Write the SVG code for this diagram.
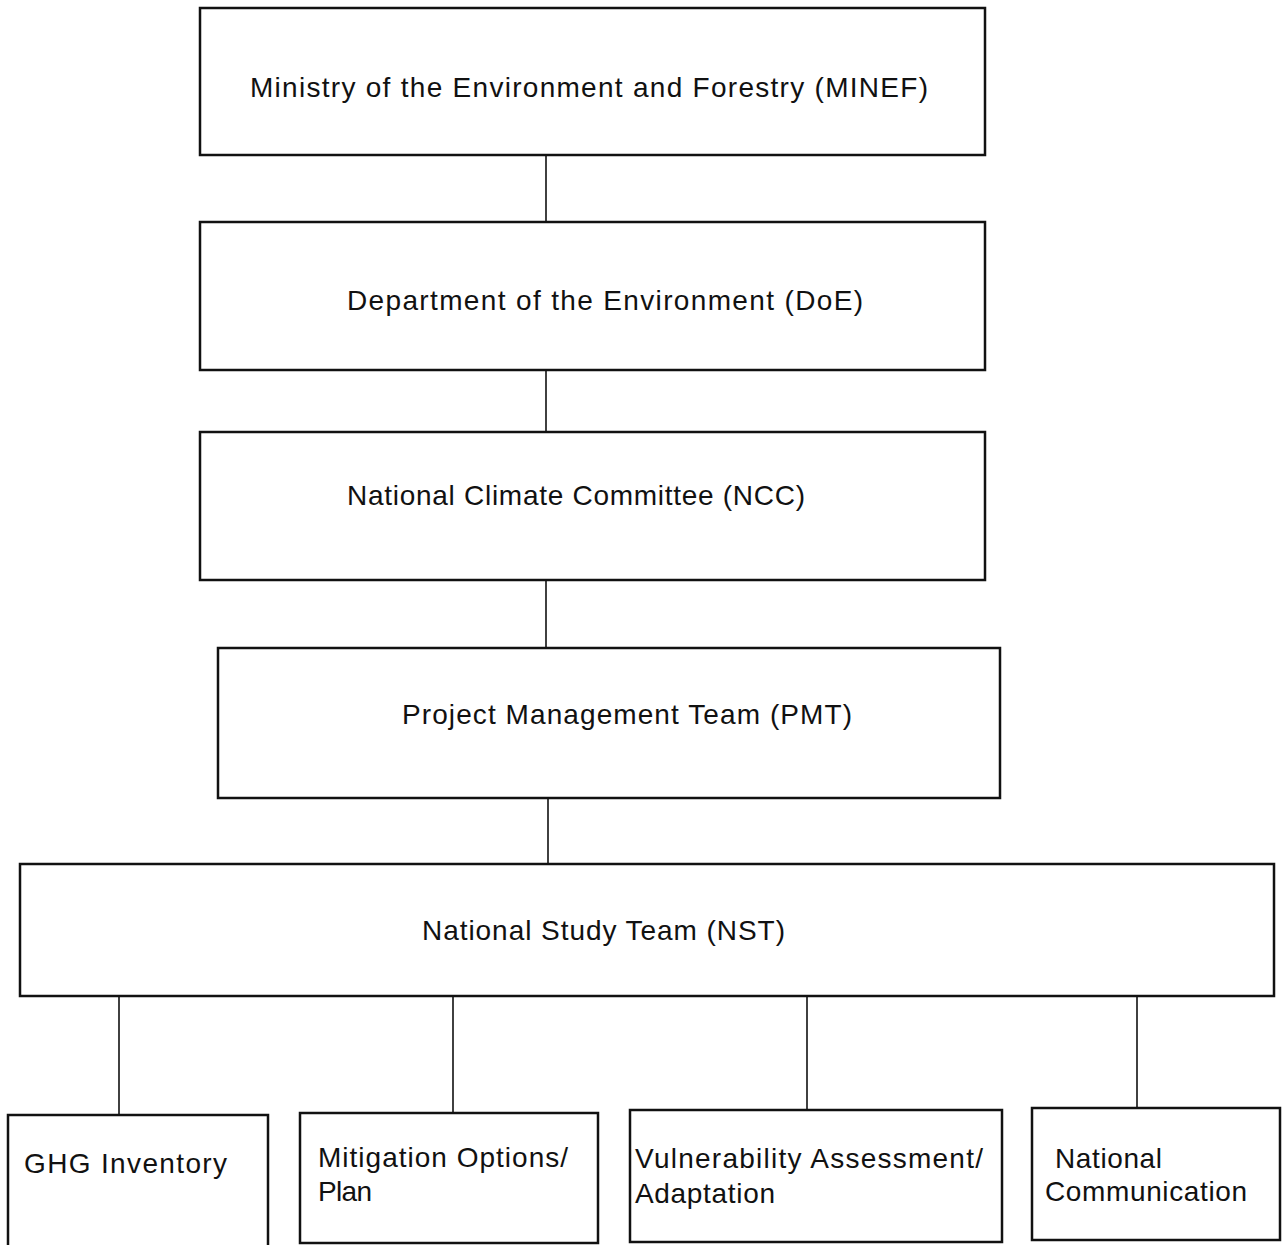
<svg xmlns="http://www.w3.org/2000/svg" width="1282" height="1245" viewBox="0 0 1282 1245">
<style>
.box{fill:#fff;stroke:#111;stroke-width:2.5}
.ln{stroke:#111;stroke-width:1.6;fill:none}
text{font-family:"Liberation Sans","DejaVu Sans",sans-serif;font-size:28px;fill:#111}
</style>
<rect width="1282" height="1245" fill="#fff"/>
<g id="connectors">
<line class="ln" x1="546" y1="155" x2="546" y2="222"/>
<line class="ln" x1="546" y1="370" x2="546" y2="432"/>
<line class="ln" x1="546" y1="580" x2="546" y2="648"/>
<line class="ln" x1="548" y1="798" x2="548" y2="864"/>
<line class="ln" x1="119" y1="996" x2="119" y2="1115"/>
<line class="ln" x1="453" y1="996" x2="453" y2="1113"/>
<line class="ln" x1="807" y1="996" x2="807" y2="1110"/>
<line class="ln" x1="1137" y1="996" x2="1137" y2="1108"/>
</g>
<g id="minef">
<rect class="box" x="200" y="8" width="785" height="147"/>
<text x="250" y="97" textLength="678">Ministry of the Environment and  Forestry (MINEF)</text>
</g>
<g id="doe">
<rect class="box" x="200" y="222" width="785" height="148"/>
<text x="347" y="310" textLength="516">Department of the Environment (DoE)</text>
</g>
<g id="ncc">
<rect class="box" x="200" y="432" width="785" height="148"/>
<text x="347" y="505" textLength="458">National Climate Committee (NCC)</text>
</g>
<g id="pmt">
<rect class="box" x="218" y="648" width="782" height="150"/>
<text x="402" y="724" textLength="450">Project Management Team (PMT)</text>
</g>
<g id="nst">
<rect class="box" x="20" y="864" width="1254" height="132"/>
<text x="422" y="940" textLength="363">National Study Team (NST)</text>
</g>
<g id="ghg">
<rect class="box" x="8" y="1115" width="260" height="140"/>
<text x="24" y="1173" textLength="203">GHG Inventory</text>
</g>
<g id="mitigation">
<rect class="box" x="300" y="1113" width="298" height="130"/>
<text x="318" y="1167" textLength="250">Mitigation Options/</text>
<text x="318" y="1201" textLength="54">Plan</text>
</g>
<g id="vulnerability">
<rect class="box" x="630" y="1110" width="372" height="132"/>
<text x="635" y="1168" textLength="348">Vulnerability Assessment/</text>
<text x="635" y="1203" textLength="140">Adaptation</text>
</g>
<g id="natcom">
<rect class="box" x="1032" y="1108" width="248" height="132"/>
<text x="1055" y="1168" textLength="107">National</text>
<text x="1045" y="1201" textLength="202">Communication</text>
</g>
</svg>
